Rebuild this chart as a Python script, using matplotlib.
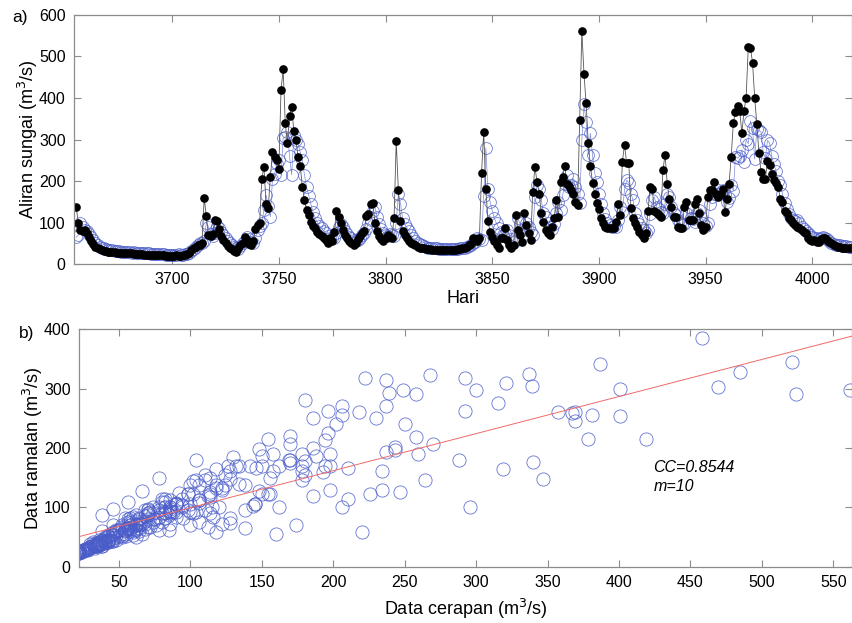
import matplotlib
matplotlib.use('Agg')
import matplotlib.pyplot as plt
import numpy as np

plt.rcParams['font.family'] = ['Liberation Sans', 'DejaVu Sans']

# Hari pertama siri masa
hari_mula = 3655

# Aliran cerapan (m3/s), satu nilai sehari dari hari 3655
cerapan = [
    138, 100, 82, 80, 82, 75, 65, 55, 48, 42, 38, 36, 34, 32, 31, 30, 30, 29, 29, 28,
    28, 27, 27, 27, 26, 26, 26, 25, 25, 24, 24, 24, 23, 23, 23, 22, 22, 22, 21, 21,
    21, 21, 20, 20, 20, 20, 20, 21, 20, 20, 21, 22, 24, 28, 33, 38, 42, 45, 47, 52,
    160, 115, 70, 68, 72, 106, 104, 85, 68, 58, 50, 44, 40, 36, 32, 30, 38, 46, 52, 66,
    58, 48, 45, 55, 85, 95, 100, 206, 234, 146, 134, 210, 270, 258, 250, 230, 419, 469, 339, 292,
    357, 378, 321, 300, 258, 237, 186, 154, 130, 118, 102, 92, 86, 78, 72, 68, 64, 58, 52, 62,
    56, 78, 128, 114, 98, 82, 70, 62, 56, 50, 46, 52, 60, 68, 76, 80, 116, 120, 145, 148,
    100, 80, 68, 60, 56, 62, 70, 66, 64, 112, 296, 178, 104, 80, 70, 62, 56, 52, 48, 45,
    42, 40, 39, 38, 37, 36, 36, 35, 35, 34, 34, 34, 34, 33, 33, 34, 34, 35, 35, 36,
    37, 38, 40, 42, 45, 48, 62, 60, 55, 64, 220, 319, 180, 104, 78, 66, 56, 46, 38, 62,
    62, 86, 58, 46, 38, 46, 118, 82, 70, 54, 122, 94, 74, 58, 174, 234, 198, 169, 124, 102,
    82, 74, 70, 90, 110, 154, 114, 198, 210, 237, 194, 188, 178, 170, 150, 142, 347, 562, 458, 387,
    292, 237, 196, 170, 148, 132, 110, 98, 90, 86, 86, 86, 88, 102, 145, 118, 247, 288, 243, 243,
    134, 110, 98, 90, 78, 70, 64, 74, 128, 186, 180, 128, 124, 118, 114, 226, 264, 194, 158, 138,
    114, 114, 90, 86, 86, 138, 150, 106, 106, 106, 144, 156, 122, 94, 82, 90, 162, 178, 178, 198,
    170, 162, 170, 180, 126, 156, 193, 259, 340, 367, 381, 369, 315, 369, 401, 524, 521, 485, 401, 337,
    268, 222, 206, 206, 249, 239, 218, 202, 196, 186, 158, 150, 128, 122, 112, 106, 100, 94, 90, 86,
    82, 78, 74, 64, 58, 56, 58, 54, 54, 60, 64, 62, 58, 54, 50, 46, 43, 42, 42, 40,
    40, 40, 40, 40,
]

# Aliran ramalan (m3/s)
ramalan = [
    65, 70, 100, 90, 82, 80, 72, 66, 58, 52, 46, 42, 40, 38, 36, 34, 33, 33, 32, 31,
    31, 30, 30, 30, 29, 29, 28, 29, 28, 27, 27, 27, 26, 26, 26, 25, 25, 25, 24, 24,
    24, 24, 23, 23, 23, 23, 23, 23, 24, 23, 23, 24, 25, 28, 32, 36, 42, 46, 50, 52,
    56, 100, 90, 72, 68, 76, 92, 88, 78, 70, 62, 56, 50, 46, 42, 38, 36, 44, 50, 56,
    66, 60, 54, 52, 62, 82, 92, 100, 130, 166, 140, 114, 206, 218, 240, 250, 215, 303, 305, 317,
    260, 215, 310, 298, 290, 270, 250, 215, 185, 165, 145, 125, 112, 100, 92, 86, 80, 74, 68, 62,
    64, 62, 74, 90, 96, 90, 80, 72, 66, 62, 58, 56, 58, 64, 70, 76, 84, 100, 106, 128,
    138, 114, 96, 84, 76, 70, 68, 72, 70, 68, 100, 170, 146, 110, 96, 88, 80, 70, 62, 56,
    52, 48, 46, 44, 42, 40, 40, 39, 38, 38, 37, 37, 36, 36, 36, 36, 36, 36, 37, 37,
    38, 39, 40, 42, 44, 46, 50, 54, 62, 60, 58, 165, 280, 180, 150, 128, 110, 98, 88, 78,
    70, 72, 82, 70, 60, 54, 58, 110, 98, 82, 72, 100, 90, 78, 70, 162, 190, 180, 154, 122,
    114, 100, 90, 84, 96, 122, 150, 130, 166, 194, 214, 186, 190, 206, 186, 170, 148, 298, 385, 342,
    263, 315, 262, 220, 198, 170, 146, 122, 108, 100, 94, 90, 92, 90, 106, 138, 126, 180, 202, 196,
    170, 154, 122, 106, 96, 88, 82, 76, 82, 120, 154, 162, 138, 132, 126, 122, 146, 170, 162, 138,
    122, 118, 106, 100, 94, 96, 122, 138, 112, 108, 102, 122, 130, 114, 100, 92, 100, 146, 162, 170,
    180, 170, 174, 178, 170, 150, 160, 190, 177, 259, 255, 260, 275, 245, 300, 290, 345, 327, 253, 325,
    322, 318, 270, 255, 298, 292, 260, 240, 225, 200, 190, 170, 148, 132, 120, 112, 106, 104, 106, 98,
    90, 84, 80, 74, 70, 66, 64, 62, 60, 62, 66, 64, 60, 56, 52, 48, 46, 46, 45, 44,
    44, 43, 42, 42,
]

# Garis regresi pada plot serakan
garis_m = 0.623
garis_c = 37.3

n = min(len(cerapan), len(ramalan))
cerapan = np.array(cerapan[:n], dtype=float)
ramalan = np.array(ramalan[:n], dtype=float)
hari = np.arange(hari_mula, hari_mula + n)

biru = '#4a5cc8'
kelabu = '#8c8c8c'

fig = plt.figure(figsize=(8.53, 6.23), dpi=100)

def gaya_paksi(ax):
    for s in ax.spines.values():
        s.set_color(kelabu)
        s.set_linewidth(0.9)
    ax.tick_params(direction='in', top=True, right=True, length=5,
                   color=kelabu, labelsize=11.5, pad=6)

# a) siri masa
ax1 = fig.add_axes([0.0868, 0.576, 0.912, 0.400])
ax1.plot(hari, ramalan, '-', color=biru, lw=0.5, alpha=0.7)
ax1.plot(hari, ramalan, 'o', mfc='none', mec=biru, ms=8.5, mew=0.6, alpha=0.8)
ax1.plot(hari, cerapan, '-', color='#555555', lw=0.6)
ax1.plot(hari, cerapan, 'o', color='black', ms=5.2)
ax1.set_xlim(3654, 4018.6)
ax1.set_ylim(0, 600)
ax1.set_xticks([3700, 3750, 3800, 3850, 3900, 3950, 4000])
ax1.set_yticks(range(0, 601, 100))
ax1.set_xlabel('Hari', fontsize=13, labelpad=2)
ax1.set_ylabel('Aliran sungai (m$^3$/s)', fontsize=13, labelpad=-1)
gaya_paksi(ax1)
fig.text(0.014, 0.965, 'a)', fontsize=12.5)

# b) serakan cerapan vs ramalan
ax2 = fig.add_axes([0.0926, 0.0899, 0.906, 0.382])
ax2.plot(cerapan, ramalan, 'o', mfc='none', mec=biru, ms=9.5, mew=0.6, alpha=0.85)
xs = np.array([22, 563])
ax2.plot(xs, garis_m * xs + garis_c, '-', color='#f06a6a', lw=0.7)
ax2.set_xlim(22, 563)
ax2.set_ylim(0, 400)
ax2.set_xticks(range(50, 551, 50))
ax2.set_yticks(range(0, 401, 100))
ax2.set_xlabel('Data cerapan (m$^3$/s)', fontsize=13, labelpad=5)
ax2.set_ylabel('Data ramalan (m$^3$/s)', fontsize=13, labelpad=-1)
ax2.text(424, 151, 'CC=0.8544\nm=10', fontsize=11.5, style='italic',
         linespacing=1.3, va='center')
gaya_paksi(ax2)
fig.text(0.022, 0.458, 'b)', fontsize=12.5)

fig.savefig('out.png', dpi=100)
